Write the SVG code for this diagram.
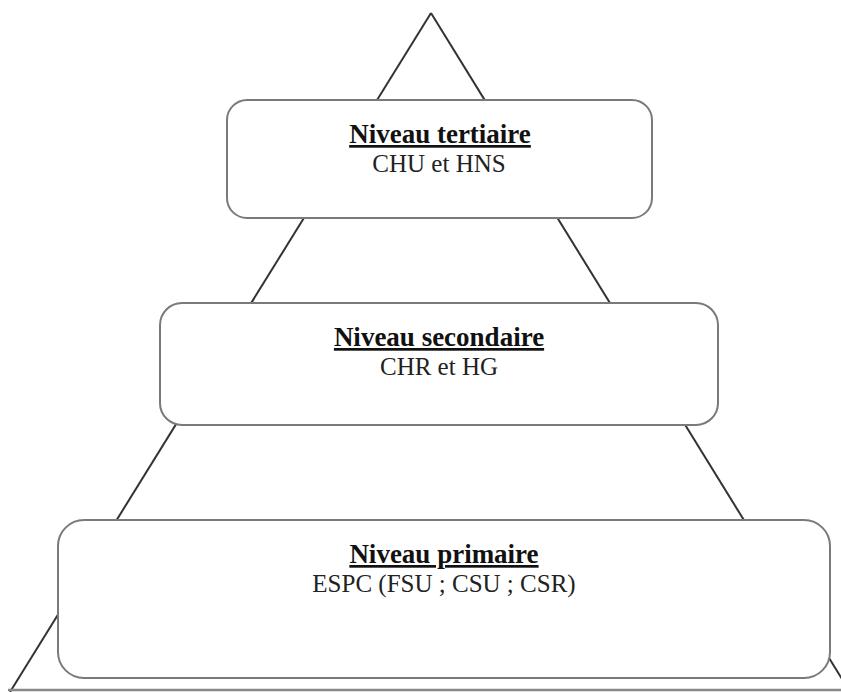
<svg xmlns="http://www.w3.org/2000/svg" width="841" height="692" viewBox="0 0 841 692">
<style>
.box{fill:#fff;stroke:#7a7a7a;stroke-width:2}
.edge{stroke:#333;stroke-width:2;fill:none}
.base{stroke:#888;stroke-width:2.5;fill:none}
.title{font-family:'Liberation Serif','Times New Roman',Tinos,'DejaVu Serif',serif;font-weight:bold;font-size:27px;fill:#111;text-anchor:middle;text-decoration:underline}
.sub{font-family:'Liberation Serif','Times New Roman',Tinos,'DejaVu Serif',serif;font-size:25px;fill:#222;text-anchor:middle}
</style>
<rect width="841" height="692" fill="#fff"/>
<g id="connectors">
<line class="edge" x1="431" y1="13" x2="10" y2="692"/>
<line class="edge" x1="431" y1="13" x2="850" y2="692"/>
<line class="base" x1="8" y1="690" x2="841" y2="690"/>
</g>
<g id="tertiaire">
<rect class="box" x="227" y="100" width="425" height="118" rx="20" ry="20"/>
<text class="title" x="440" y="143" font-family="Liberation Serif, serif">Niveau tertiaire</text>
<text class="sub" x="439" y="172" font-family="Liberation Serif, serif">CHU et HNS</text>
</g>
<g id="secondaire">
<rect class="box" x="160" y="303" width="558" height="122" rx="22" ry="22"/>
<text class="title" x="439" y="346" font-family="Liberation Serif, serif">Niveau secondaire</text>
<text class="sub" x="439" y="375" font-family="Liberation Serif, serif">CHR et HG</text>
</g>
<g id="primaire">
<rect class="box" x="58" y="520" width="772" height="158" rx="26" ry="26"/>
<text class="title" x="444" y="563" font-family="Liberation Serif, serif">Niveau primaire</text>
<text class="sub" x="444" y="592" font-family="Liberation Serif, serif">ESPC (FSU ; CSU ; CSR)</text>
</g>
</svg>
